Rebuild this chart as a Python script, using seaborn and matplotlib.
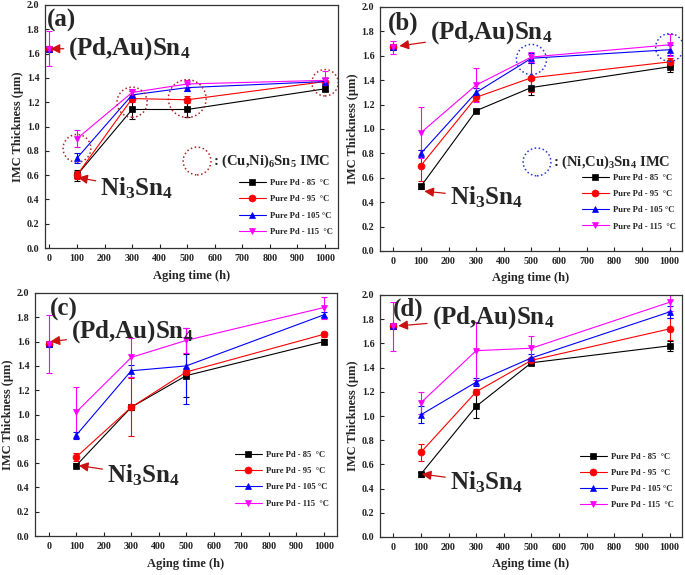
import numpy as np
import pandas as pd
import seaborn as sns
import matplotlib
matplotlib.use("Agg")
import matplotlib.pyplot as plt

# ---------------- data ----------------
times = [100, 300, 500, 1000]
series_labels = ["Pure Pd - 85  \u00b0C", "Pure Pd - 95  \u00b0C", "Pure Pd - 105 \u00b0C", "Pure Pd - 115  \u00b0C"]

# panel (a)
a_85 = [0.60, 1.14, 1.14, 1.31]
a_95 = [0.60, 1.23, 1.22, 1.37]
a_105 = [0.74, 1.26, 1.32, 1.37]
a_115 = [0.90, 1.28, 1.35, 1.38]
a_err_85 = [0.045, 0.08, 0.065, 0.02]
a_err_95 = [0.03, 0.03, 0.03, 0.03]
a_err_105 = [0.04, 0.03, 0.03, 0.03]
a_err_115 = [0.07, 0.03, 0.03, 0.08]
a_t0, a_t0_err = 1.64, 0.145

# panel (b)
b_85 = [0.53, 1.15, 1.34, 1.51]
b_95 = [0.70, 1.26, 1.42, 1.55]
b_105 = [0.80, 1.30, 1.58, 1.65]
b_115 = [0.97, 1.36, 1.59, 1.69]
b_err_85 = [0.02, 0.01, 0.065, 0.045]
b_err_95 = [0.13, 0.03, 0.12, 0.03]
b_err_105 = [0.03, 0.04, 0.04, 0.04]
b_err_115 = [0.21, 0.14, 0.04, 0.09]
b_t0, b_t0_err = 1.67, 0.055

# panel (c)
c_85 = [0.58, 1.06, 1.32, 1.60]
c_95 = [0.65, 1.06, 1.35, 1.66]
c_105 = [0.83, 1.36, 1.40, 1.82]
c_115 = [1.02, 1.47, 1.61, 1.88]
c_err_85 = [0.02, 0.02, 0.18, 0.02]
c_err_95 = [0.03, 0.24, 0.03, 0.02]
c_err_105 = [0.03, 0.05, 0.31, 0.02]
c_err_115 = [0.21, 0.16, 0.10, 0.09]
c_t0, c_t0_err = 1.58, 0.235

# panel (d)
d_85 = [0.52, 1.08, 1.44, 1.58]
d_95 = [0.70, 1.20, 1.46, 1.72]
d_105 = [1.01, 1.28, 1.48, 1.86]
d_115 = [1.11, 1.54, 1.56, 1.94]
d_err_85 = [0.02, 0.10, 0.02, 0.04]
d_err_95 = [0.07, 0.02, 0.02, 0.09]
d_err_105 = [0.07, 0.03, 0.03, 0.05]
d_err_115 = [0.09, 0.24, 0.10, 0.07]
d_t0, d_t0_err = 1.74, 0.205

# IMC circles
a_circle_x = [100, 300, 500, 1000]
a_circle_y = [0.82, 1.20, 1.23, 1.36]
a_circle_s = [400, 470, 740, 360]
b_circle_x = [500, 1000]
b_circle_y = [1.57, 1.668]
b_circle_s = [470, 400]

x_ticks = [0, 100, 200, 300, 400, 500, 600, 700, 800, 900, 1000]
y_ticks = [0.0, 0.2, 0.4, 0.6, 0.8, 1.0, 1.2, 1.4, 1.6, 1.8, 2.0]

colors = ["#000000", "#ff0000", "#0000ff", "#ff00ff"]
markers = ["s", "o", "^", "v"]

# ---------------- style ----------------
sns.set_theme(style="ticks")
SERIF = ["Liberation Serif", "DejaVu Serif"]
plt.rcParams["font.family"] = SERIF
plt.rcParams["font.weight"] = "bold"
plt.rcParams["mathtext.fontset"] = "custom"
plt.rcParams["mathtext.rm"] = "Liberation Serif:bold"
plt.rcParams["mathtext.it"] = "Liberation Serif:bold"
plt.rcParams["mathtext.bf"] = "Liberation Serif:bold"

fig = plt.figure(figsize=(6.85, 5.75), dpi=100)

def frac(l, r, t, b):
    W, H = 685.0, 575.0
    return [l / W, 1 - b / H, (r - l) / W, (b - t) / H]

panels = [
    dict(rect=frac(45, 338, 5, 248), lab="(a)", labpos=(0.005, 0.985), xlim=(-16, 1047),
         vals=[a_85, a_95, a_105, a_115], errs=[a_err_85, a_err_95, a_err_105, a_err_115],
         t0=a_t0, t0e=a_t0_err,
         pd_xy=(4, 1.64), pd_txt=(69, 1.64),
         ni_xy=(104, 0.58), ni_txt=(185, 0.49),
         leg=(0.662, 0.05)),
    dict(rect=frac(380, 682, 7, 251), lab="(b)", labpos=(0.026, 0.98), xlim=(-48, 1045),
         vals=[b_85, b_95, b_105, b_115], errs=[b_err_85, b_err_95, b_err_105, b_err_115],
         t0=b_t0, t0e=b_t0_err,
         pd_xy=(22, 1.68), pd_txt=(133, 1.79),
         ni_xy=(112, 0.49), ni_txt=(205, 0.44),
         leg=(0.669, 0.084)),
    dict(rect=frac(35, 337, 293, 536), lab="(c)", labpos=(0.05, 0.98), xlim=(-50, 1048),
         vals=[c_85, c_95, c_105, c_115], errs=[c_err_85, c_err_95, c_err_105, c_err_115],
         t0=c_t0, t0e=c_t0_err,
         pd_xy=(6, 1.60), pd_txt=(81, 1.68),
         ni_xy=(109, 0.58), ni_txt=(212, 0.50),
         leg=(0.662, 0.117)),
    dict(rect=frac(380, 682, 295, 537), lab="(d)", labpos=(0.043, 0.99), xlim=(-48, 1045),
         vals=[d_85, d_95, d_105, d_115], errs=[d_err_85, d_err_95, d_err_105, d_err_115],
         t0=d_t0, t0e=d_t0_err,
         pd_xy=(18, 1.745), pd_txt=(139, 1.81),
         ni_xy=(103, 0.52), ni_txt=(205, 0.45),
         leg=(0.662, 0.114)),
]

ARROW = "#cc1111"

for i, p in enumerate(panels):
    ax = fig.add_axes(p["rect"])
    for k in range(4):
        ax.errorbar(times, p["vals"][k], yerr=p["errs"][k], fmt="none",
                    ecolor=colors[k], elinewidth=0.8, capsize=2.2, capthick=0.8, zorder=2)
        sns.lineplot(x=times, y=p["vals"][k], color=colors[k], marker=markers[k],
                     markersize=5, markeredgecolor=colors[k], markeredgewidth=0.5,
                     linewidth=0.8, label=series_labels[k], ax=ax, zorder=3)
    # t = 0 points ((Pd,Au)Sn4)
    ax.errorbar([0], [p["t0"]], yerr=[p["t0e"]], fmt="none", ecolor=colors[3],
                elinewidth=0.8, capsize=2.2, capthick=0.8, zorder=2)
    for k in range(4):
        ax.plot([0], [p["t0"]], marker=markers[k], color=colors[k], markersize=5,
                markeredgecolor=colors[k], markeredgewidth=0.5, linestyle="none",
                label="_nolegend_", zorder=3)

    ax.set_xlim(*p["xlim"])
    ax.set_ylim(0, 2.0)
    ax.set_xticks(x_ticks)
    ax.set_yticks(y_ticks)
    ax.set_xticklabels([str(t) for t in x_ticks], fontsize=7.2, fontweight="bold")
    ax.set_yticklabels([f"{t:.1f}" for t in y_ticks], fontsize=7.2, fontweight="bold")
    ax.tick_params(direction="in", length=3, width=0.8, pad=4, colors="#222222")
    for s in ax.spines.values():
        s.set_linewidth(0.9)
        s.set_color("#333333")
        s.set_visible(True)
    ax.set_xlabel("Aging time (h)", fontsize=9, fontweight="bold", labelpad=5)
    ax.set_ylabel("IMC Thickness (\u03bcm)", fontsize=9, fontweight="bold", labelpad=2)

    ax.text(p["labpos"][0], p["labpos"][1], p["lab"], transform=ax.transAxes,
            fontsize=18, fontweight="bold", ha="left", va="top", zorder=6)

    ax.annotate("(Pd,Au)Sn$_4$", xy=p["pd_xy"], xytext=p["pd_txt"],
                fontsize=18, ha="left", va="center", zorder=6,
                arrowprops=dict(arrowstyle="-|>", color=ARROW, lw=0.9,
                                mutation_scale=14, shrinkA=1, shrinkB=0))
    ax.annotate("Ni$_3$Sn$_4$", xy=p["ni_xy"], xytext=p["ni_txt"],
                fontsize=18, ha="left", va="center", zorder=6,
                arrowprops=dict(arrowstyle="-|>", color=ARROW, lw=0.9,
                                mutation_scale=14, shrinkA=1, shrinkB=0))

    handles, labels = ax.get_legend_handles_labels()
    leg = ax.legend(handles, labels, loc="lower left", bbox_to_anchor=p["leg"],
                    frameon=False, prop=dict(family=SERIF, weight="bold", size=6.2),
                    handlelength=3.1, handletextpad=0.5, labelspacing=0.95,
                    borderpad=0, borderaxespad=0)

    if i == 0:
        ax.scatter(a_circle_x, a_circle_y, s=a_circle_s, facecolors="none",
                   edgecolors="#b22222", linestyles=":", linewidths=1.1, zorder=5)
        ax.scatter([0.519], [0.358], s=400, facecolors="none", edgecolors="#b22222",
                   linestyles=":", linewidths=1.1, transform=ax.transAxes, zorder=5)
        ax.text(0.573, 0.358, ": (Cu,Ni)$_6$Sn$_5$ IMC", transform=ax.transAxes,
                fontsize=10.5, ha="left", va="center")
    if i == 1:
        ax.scatter(b_circle_x, b_circle_y, s=b_circle_s, facecolors="none",
                   edgecolors="#2233dd", linestyles=":", linewidths=1.1, zorder=5)
        ax.scatter([0.52], [0.365], s=400, facecolors="none", edgecolors="#2233dd",
                   linestyles=":", linewidths=1.1, transform=ax.transAxes, zorder=5)
        ax.text(0.573, 0.365, ": (Ni,Cu)$_3$Sn$_4$ IMC", transform=ax.transAxes,
                fontsize=10.5, ha="left", va="center")

fig.savefig("out.png", dpi=100)
